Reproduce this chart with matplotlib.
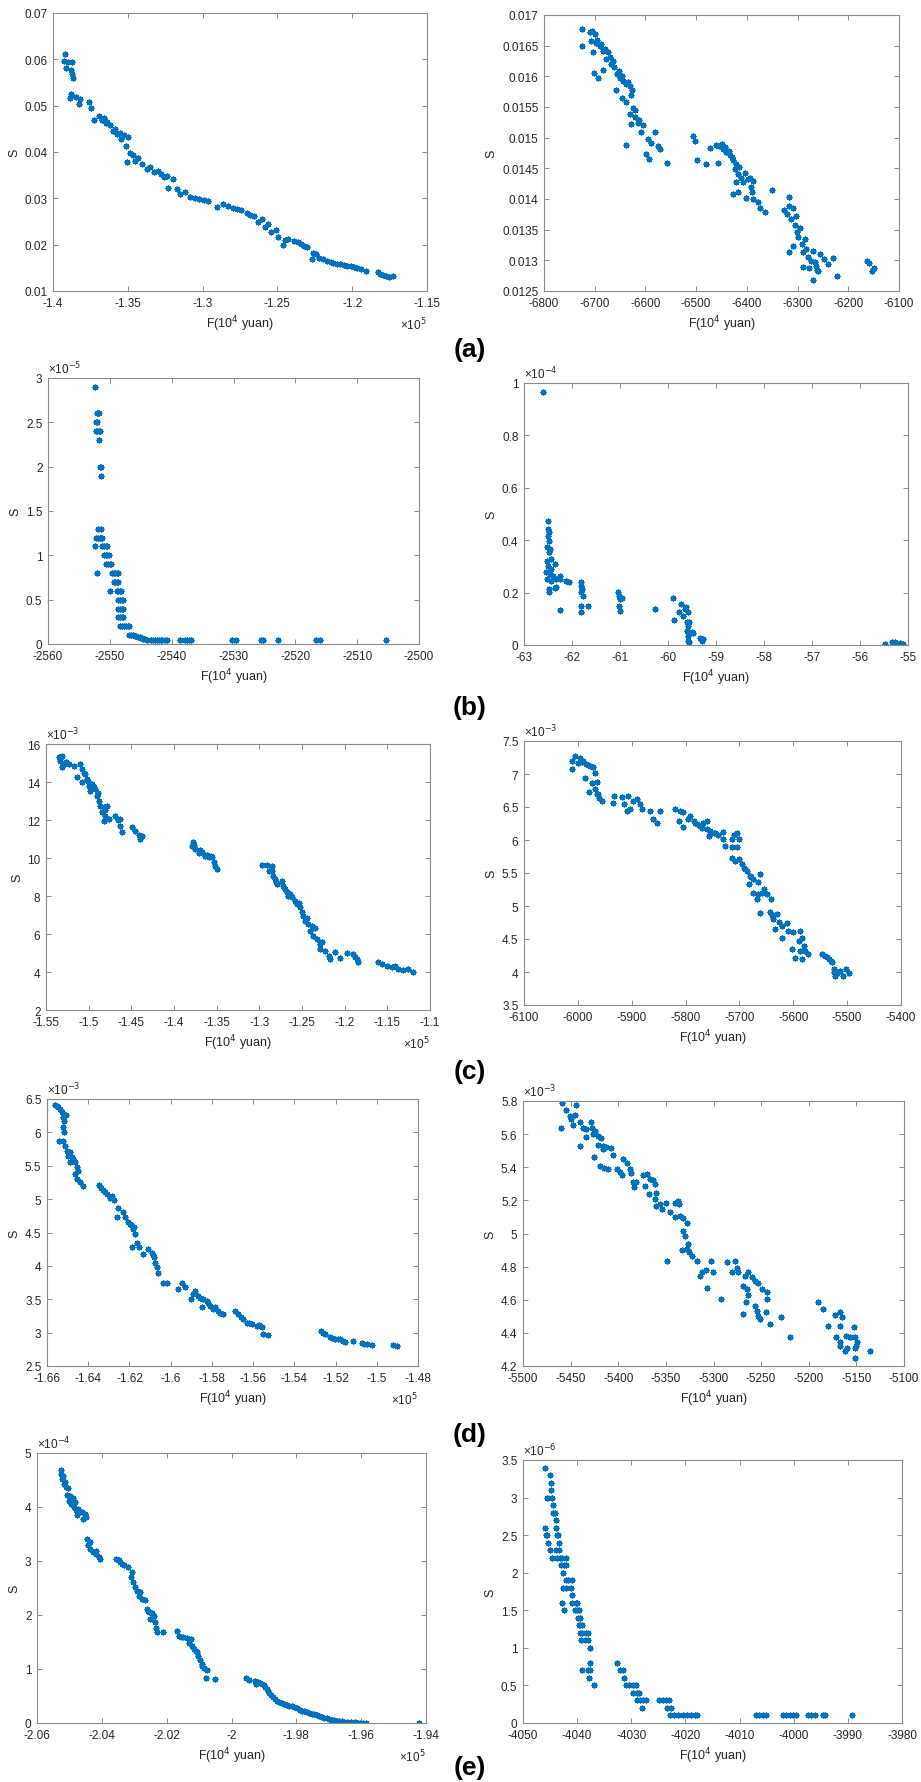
import matplotlib
matplotlib.use("Agg")
import matplotlib.pyplot as plt
from matplotlib.ticker import FuncFormatter
import numpy as np

plt.rcParams['font.family'] = ['Liberation Sans', 'DejaVu Sans']

# ---------------- data ----------------
# (a) left
a1_F = [-139174, -139263, -138996, -138705, -139107, -138817, -138661, -138705, -138772, -138884,
        -138482, -138214, -138259, -137590, -137433, -137277, -136920, -136607, -136384, -136161,
        -135982, -135714, -135491, -135424, -134978, -135090, -134822, -134643, -135045, -134532,
        -134018, -133750, -133259, -132813, -132411, -132009, -132300, -131742, -131184, -130849,
        -130224, -129621, -129063, -128661, -127947, -127456, -127010, -126563, -126273, -125827,
        -125447, -124643, -124934, -124264, -123885, -123439, -122992, -122590, -122702, -122189,
        -121698, -121251, -120805, -120358, -119867, -119421, -119064, -118305, -117948, -117568, -117278,
        -136750, -136450, -135850, -135250, -134300, -133500, -133000, -132600, -131500, -130500,
        -129900, -128300, -127700, -126800, -126000, -125600, -125100, -124500, -123650, -123200,
        -122400, -121950, -121450, -121000, -120550, -120100, -119650, -118150, -117750]
a1_S = [0.0611, 0.0597, 0.0595, 0.0595, 0.0582, 0.0577, 0.0559, 0.0568, 0.0526, 0.0516,
        0.0519, 0.0514, 0.0503, 0.0508, 0.0494, 0.0469, 0.0478, 0.0474, 0.0465, 0.0458,
        0.0446, 0.0438, 0.0442, 0.0428, 0.0433, 0.0413, 0.0397, 0.0393, 0.0379, 0.0381,
        0.0375, 0.0364, 0.0357, 0.0352, 0.0348, 0.0341, 0.0323, 0.0321, 0.0314, 0.0302,
        0.0298, 0.0294, 0.0282, 0.0287, 0.0280, 0.0275, 0.0268, 0.0262, 0.0249, 0.0239,
        0.0227, 0.0200, 0.0217, 0.0213, 0.0208, 0.0201, 0.0194, 0.0183, 0.0170, 0.0172,
        0.0165, 0.0161, 0.0158, 0.0154, 0.0152, 0.0148, 0.0143, 0.0140, 0.0135, 0.0131, 0.0132,
        0.0470, 0.0462, 0.0449, 0.0436, 0.0386, 0.0368, 0.0360, 0.0346, 0.0309, 0.0300,
        0.0296, 0.0284, 0.0278, 0.0265, 0.0256, 0.0244, 0.0231, 0.0210, 0.0205, 0.0197,
        0.0179, 0.0168, 0.0163, 0.0159, 0.0156, 0.0153, 0.0150, 0.0137, 0.0133]

# (a) right
a2_F = [-6725, -6725, -6710, -6705, -6700, -6707, -6697, -6690, -6703, -6684, -6674, -6677, -6667,
        -6684, -6661, -6657, -6651, -6644, -6638, -6631, -6626, -6701, -6694, -6659, -6647, -6638,
        -6628, -6625, -6630, -6621, -6628, -6615, -6605, -6608, -6595, -6590, -6582, -6598, -6593,
        -6575, -6572, -6639, -6557, -6506, -6503, -6498, -6481, -6472, -6460, -6454, -6447, -6457,
        -6441, -6434, -6427, -6421, -6424, -6418, -6411, -6404, -6394, -6388, -6421, -6408, -6389,
        -6427, -6418, -6401, -6388, -6378, -6375, -6365, -6350, -6327, -6316, -6316, -6320, -6312,
        -6306, -6302, -6299, -6316, -6309, -6292, -6283, -6289, -6270, -6280, -6273, -6263, -6256,
        -6289, -6277, -6260, -6270, -6247, -6240, -6230, -6222, -6164, -6159, -6154, -6150,
        -6695, -6688, -6680, -6669, -6664, -6653, -6646, -6634, -6620, -6612, -6450, -6444, -6436,
        -6430, -6415, -6398, -6392, -6310, -6304, -6296, -6286, -6266, -6262]
a2_S = [0.01677, 0.01650, 0.01672, 0.01674, 0.01669, 0.01658, 0.01655, 0.01650, 0.01639, 0.01642,
        0.01639, 0.01628, 0.01620, 0.01611, 0.01615, 0.01604, 0.01598, 0.01593, 0.01588, 0.01584,
        0.01578, 0.01605, 0.01597, 0.01578, 0.01564, 0.01558, 0.01570, 0.01549, 0.01539, 0.01533,
        0.01522, 0.01524, 0.01520, 0.01509, 0.01498, 0.01491, 0.01510, 0.01473, 0.01465, 0.01487,
        0.01482, 0.01488, 0.01459, 0.01503, 0.01495, 0.01464, 0.01457, 0.01483, 0.01488, 0.01487,
        0.01482, 0.01458, 0.01476, 0.01471, 0.01463, 0.01457, 0.01449, 0.01441, 0.01435, 0.01443,
        0.01435, 0.01430, 0.01427, 0.01427, 0.01411, 0.01408, 0.01411, 0.01401, 0.01400, 0.01395,
        0.01386, 0.01379, 0.01414, 0.01382, 0.01403, 0.01389, 0.01376, 0.01367, 0.01357, 0.01346,
        0.01338, 0.01313, 0.01324, 0.01327, 0.01318, 0.01313, 0.01316, 0.01305, 0.01299, 0.01291,
        0.01310, 0.01289, 0.01287, 0.01283, 0.01268, 0.01302, 0.01294, 0.01303, 0.01274, 0.01299,
        0.01296, 0.01283, 0.01287,
        0.01660, 0.01652, 0.01645, 0.01632, 0.01625, 0.01608, 0.01600, 0.01590, 0.01545, 0.01528,
        0.01490, 0.01485, 0.01478, 0.01468, 0.01452, 0.01432, 0.01420, 0.01385, 0.01372, 0.01352,
        0.01335, 0.01298, 0.01285]

b1_F = [-2552.46, -2552.1, -2551.9, -2551.7, -2552.2, -2552.0, -2552.2, -2552.0, -2551.8, -2551.6,
        -2551.7, -2551.6, -2551.5, -2551.38, -2551.9, -2551.4, -2552.2, -2551.9, -2551.6, -2551.4,
        -2551.2, -2552.46, -2551.2, -2551.0, -2550.7, -2550.5, -2551.0, -2550.7, -2550.4, -2550.2,
        -2550.6, -2550.3, -2550.0, -2549.8, -2552.1, -2549.7, -2549.4, -2549.2, -2548.9, -2548.7,
        -2549.4, -2549.1, -2548.8, -2548.6, -2549.9, -2548.9, -2548.6, -2548.4, -2548.2, -2548.6,
        -2548.3, -2548.1, -2547.9, -2548.6, -2548.3, -2548.1, -2547.8, -2548.6, -2548.3, -2548.0,
        -2547.8, -2548.3, -2548.0, -2547.7, -2547.4, -2547.1, -2546.9, -2546.9, -2546.6, -2546.3,
        -2546.0, -2545.7, -2545.5, -2545.2, -2545.0, -2544.8, -2544.6, -2544.3, -2544.0, -2543.3,
        -2543.0, -2542.7, -2542.4, -2542.1, -2541.8, -2541.5, -2541.1, -2540.8, -2538.6, -2537.8,
        -2537.5, -2537.2, -2536.9, -2530.2, -2529.6, -2525.5, -2525.3, -2522.8, -2516.6, -2516.0,
        -2505.4]
b1_S = [2.9, 2.6, 2.6, 2.6, 2.5, 2.5, 2.4, 2.4, 2.4, 2.4,
        2.3, 2.0, 2.0, 1.9, 1.3, 1.3, 1.2, 1.2, 1.2, 1.2,
        1.2, 1.1, 1.1, 1.1, 1.1, 1.1, 1.0, 1.0, 1.0, 1.0,
        0.9, 0.9, 0.9, 0.9, 0.8, 0.8, 0.8, 0.8, 0.8, 0.8,
        0.7, 0.7, 0.7, 0.7, 0.6, 0.6, 0.6, 0.6, 0.6, 0.5,
        0.5, 0.5, 0.5, 0.4, 0.4, 0.4, 0.4, 0.3, 0.3, 0.3,
        0.3, 0.2, 0.2, 0.2, 0.2, 0.2, 0.2, 0.1, 0.1, 0.1,
        0.09, 0.09, 0.08, 0.08, 0.07, 0.07, 0.06, 0.06, 0.05, 0.05,
        0.05, 0.05, 0.04, 0.04, 0.04, 0.04, 0.04, 0.04, 0.04, 0.04,
        0.04, 0.04, 0.04, 0.04, 0.04, 0.04, 0.04, 0.04, 0.04, 0.04,
        0.04]

# (b) right (S in units of 1e-4)
b2_F = [-62.604, -62.50, -62.50, -62.479, -62.50, -62.479, -62.52, -62.465, -62.479, -62.52,
        -62.43, -62.50, -62.36, -62.43, -62.534, -62.465, -62.395, -62.52, -62.43, -62.326,
        -62.256, -62.256, -62.117, -62.062, -62.479, -62.479, -62.36, -62.326, -62.256,
        -61.805, -61.805, -61.79, -61.805, -61.78, -61.805, -61.666, -61.82,
        -61.04, -61.02, -61.01, -60.95, -61.02, -60.99,
        -60.262,
        -59.886, -59.873, -59.77, -59.72, -59.685, -59.65, -59.616, -59.58, -59.60, -59.58,
        -59.61, -59.59, -59.58, -59.57, -59.51, -59.57, -59.48,
        -59.337, -59.30, -59.27,
        -55.48, -55.34, -55.27, -55.24, -55.17, -55.11]
b2_S = [0.967, 0.474, 0.443, 0.430, 0.417, 0.398, 0.373, 0.366, 0.354, 0.322,
        0.328, 0.303, 0.309, 0.290, 0.277, 0.271, 0.265, 0.252, 0.245, 0.252,
        0.265, 0.252, 0.245, 0.239, 0.214, 0.201, 0.216, 0.220, 0.135,
        0.239, 0.226, 0.214, 0.201, 0.188, 0.150, 0.150, 0.125,
        0.204, 0.188, 0.176, 0.181, 0.150, 0.131,
        0.137,
        0.178, 0.097, 0.125, 0.156, 0.112, 0.137, 0.144, 0.125, 0.087, 0.074,
        0.055, 0.036, 0.017, 0.010, 0.048, 0.087, 0.046,
        0.025, 0.017, 0.023,
        0.004, 0.013, 0.010, 0.004, 0.008, 0.004]

# (c) left (S in units of 1e-3)
c1_F = [-153517, -153322, -153127, -152932, -153127, -152346, -151761, -150980, -150785, -151370,
        -150785, -150395, -150200, -150004, -149614, -149809, -149224, -149029, -148834, -148638,
        -148248, -147858, -148443, -148053, -148248, -147663, -146882, -146374, -146296, -146101,
        -144930, -144540, -144150, -143955, -143760, -137788, -137905, -137514, -137124, -136734,
        -136344, -135954, -135563, -135368, -135173, -134978, -129709, -129124, -128538, -128538,
        -128343, -128148, -127952, -127367, -127172, -126977, -126782, -126587, -126196, -125806,
        -125611, -125221, -125026, -124830, -124635, -124245, -123855, -124050, -123660, -123269,
        -122879, -122879, -122294, -121786, -121708, -121122, -120537, -119756, -118975, -118585,
        -118390, -116048, -115658, -115073, -114488, -114097, -113707, -113122, -112536, -111951,
        -153400, -152600, -150600, -150100, -149400, -148900, -148100, -146600, -137600, -136900,
        -136100, -135700, -128900, -128000, -126400, -125400, -124450, -123450, -122600, -118800]
c1_S = [15.30, 15.12, 15.39, 14.96, 14.77, 14.96, 14.86, 14.95, 14.68, 14.25,
        13.98, 14.42, 14.16, 13.81, 13.90, 13.54, 13.63, 13.28, 13.02, 12.75,
        12.67, 12.75, 12.40, 12.23, 11.97, 12.05, 12.19, 12.05, 11.70, 11.35,
        11.61, 11.44, 11.21, 11.00, 11.14, 10.82, 10.65, 10.47, 10.26, 10.30,
        10.12, 10.03, 10.03, 9.77, 9.60, 9.42, 9.63, 9.63, 9.60, 9.33,
        9.07, 8.89, 8.63, 8.81, 8.54, 8.37, 8.19, 8.02, 7.93, 7.75,
        7.58, 7.40, 7.18, 6.97, 6.70, 6.53, 6.44, 6.18, 5.91, 5.74,
        5.47, 5.21, 5.12, 4.86, 4.68, 5.07, 4.72, 5.00, 4.95, 4.68,
        4.51, 4.51, 4.42, 4.33, 4.25, 4.33, 4.16, 4.12, 4.16, 3.98,
        15.20, 15.05, 14.50, 14.05, 13.75, 13.40, 12.55, 12.00, 10.70, 10.40,
        10.18, 10.08, 9.30, 8.75, 8.10, 7.65, 6.85, 6.30, 5.60, 4.80]

# (c) right (S in units of 1e-3)
c2_F = [-6010, -6010, -6005, -5996, -5999, -5990, -5984, -5977, -5971, -5968, -5987, -5974, -5964,
        -5980, -5968, -5965, -5960, -5956, -5933, -5918, -5906, -5934, -5915, -5909, -5903, -5897,
        -5891, -5884, -5881, -5866, -5861, -5853, -5847, -5819, -5810, -5804, -5813, -5805, -5791,
        -5785, -5779, -5773, -5767, -5761, -5761, -5754, -5757, -5748, -5739, -5730, -5726, -5730,
        -5710, -5705, -5700, -5714, -5714, -5705, -5714, -5708, -5700, -5696, -5692, -5686, -5680,
        -5674, -5683, -5661, -5665, -5674, -5665, -5658, -5668, -5649, -5642, -5661, -5643, -5630,
        -5627, -5637, -5634, -5621, -5612, -5621, -5609, -5600, -5587, -5590, -5603, -5597, -5584,
        -5581, -5578, -5587, -5584, -5572, -5547, -5541, -5534, -5528, -5525, -5522, -5519, -5513,
        -5503, -5497, -5507,
        -5993, -5981, -5962, -5795, -5782, -5770, -5745, -5690, -5678, -5655, -5640, -5538, -5530, -5524]
c2_S = [7.20, 7.08, 7.27, 7.25, 7.17, 7.20, 7.15, 7.12, 7.10, 7.02, 6.94, 6.87, 6.88,
        6.73, 6.77, 6.69, 6.64, 6.59, 6.67, 6.65, 6.67, 6.56, 6.54, 6.44, 6.47, 6.59,
        6.62, 6.54, 6.47, 6.44, 6.32, 6.26, 6.44, 6.47, 6.44, 6.42, 6.29, 6.19, 6.36,
        6.29, 6.24, 6.21, 6.26, 6.29, 6.16, 6.14, 6.06, 6.11, 6.07, 6.12, 5.91, 6.02,
        6.07, 6.11, 6.01, 6.01, 5.89, 5.89, 5.73, 5.68, 5.71, 5.63, 5.58, 5.53, 5.46,
        5.41, 5.33, 5.48, 5.36, 5.20, 5.18, 5.20, 5.10, 5.18, 5.10, 4.90, 4.91, 4.88,
        4.76, 4.80, 4.65, 4.70, 4.75, 4.52, 4.62, 4.60, 4.62, 4.47, 4.35, 4.21, 4.52,
        4.40, 4.32, 4.32, 4.20, 4.27, 4.27, 4.25, 4.20, 4.15, 4.04, 3.94, 3.99, 4.02,
        4.04, 3.99, 3.94,
        7.18, 7.13, 6.70, 6.32, 6.26, 6.18, 6.10, 5.56, 5.44, 5.26, 4.86, 4.22, 4.17, 4.00]

# (d) left (S in units of 1e-3)
d1_F = [-165612, -165450, -165369, -165289, -165208, -165175, -165240, -165175, -165402, -165208,
        -165127, -165046, -164965, -164803, -164884, -164642, -164561, -164480, -164642, -164528,
        -164399, -164237, -163461, -163267, -163106, -162863, -162750, -162540, -162620, -162330,
        -162216, -162055, -161941, -161844, -161731, -161893, -161618, -161520, -161327, -161084,
        -160923, -160810, -160761, -160680, -160599, -160389, -160195, -159629, -159467, -159306,
        -159031, -158820, -158659, -158416, -158255, -158093, -158497, -157850, -157689, -157478,
        -156880, -156718, -156476, -156314, -156071, -155829, -155586, -155505, -155263, -152724,
        -152514, -152271, -152029, -151786, -151544, -151140, -150736, -150493, -150251, -149232,
        -149038,
        -165530, -165100, -164900, -164720, -163380, -163190, -162960, -161990, -161790, -160860,
        -158900, -158560, -158180, -157950, -157600, -156600, -156200, -155700, -152620, -152150,
        -151900, -151650, -150620]
d1_S = [6.415, 6.375, 6.35, 6.30, 6.225, 6.175, 6.075, 6.0, 5.876, 5.876,
        5.80, 5.726, 5.65, 5.626, 5.55, 5.55, 5.476, 5.426, 5.376, 5.30,
        5.26, 5.20, 5.21, 5.14, 5.077, 5.04, 4.99, 4.86, 4.73, 4.80,
        4.73, 4.66, 4.61, 4.55, 4.48, 4.29, 4.35, 4.28, 4.18, 4.26,
        4.20, 4.13, 4.05, 3.98, 3.90, 3.75, 3.74, 3.65, 3.74, 3.68,
        3.51, 3.63, 3.55, 3.51, 3.48, 3.40, 3.38, 3.38, 3.33, 3.28,
        3.33, 3.28, 3.21, 3.15, 3.13, 3.10, 3.08, 2.98, 2.96, 3.03,
        2.98, 2.93, 2.91, 2.90, 2.86, 2.88, 2.84, 2.83, 2.81, 2.81,
        2.80,
        6.40, 6.26, 5.70, 5.60, 5.17, 5.10, 5.02, 4.63, 4.58, 4.17,
        3.58, 3.52, 3.44, 3.36, 3.30, 3.24, 3.14, 3.12, 3.00, 2.92,
        2.90, 2.88, 2.83]

# (d) right (S in units of 1e-3)
d2_F = [-5458.6, -5459.7, -5455.1, -5450.9, -5449.2, -5445.7, -5443.9, -5447.4, -5439.7, -5439.7,
        -5436.9, -5433.4, -5428.1, -5427.1, -5424.6, -5433.4, -5426.4, -5421.1, -5417.6, -5421.1,
        -5415.9, -5425.3, -5415.9, -5413.1, -5407.1, -5405.3, -5419.4, -5415.2, -5410.6, -5401.8,
        -5398.3, -5395.9, -5394.8, -5391.3, -5387.8, -5386.1, -5384.3, -5381.5, -5383.6, -5373.8,
        -5369.6, -5372.0, -5366.8, -5363.3, -5361.5, -5367.5, -5360.5, -5361.9, -5360.5, -5356.3,
        -5354.5, -5349.9, -5345.8, -5340.5, -5337.0, -5335.9, -5340.5, -5335.2, -5332.4, -5328.2,
        -5331.7, -5329.9, -5326.5, -5328.2, -5333.5, -5325.4, -5323.0, -5317.7, -5349.3, -5312.5,
        -5314.2, -5307.9, -5303.0, -5300.2, -5307.2, -5292.5, -5285.5, -5277.5, -5275.7, -5274.0,
        -5280.9, -5266.9, -5263.4, -5259.9, -5256.4, -5253.5, -5249.3, -5268.6, -5265.1, -5263.4,
        -5265.8, -5269.3, -5256.4, -5254.6, -5252.9, -5251.1, -5244.8, -5244.1, -5244.1, -5240.6,
        -5229.4, -5220.2, -5189.8, -5185.2, -5180.3, -5172.2, -5166.9, -5165.2, -5166.9, -5171.2,
        -5167.6, -5166.9, -5161.7, -5160.0, -5160.6, -5156.4, -5152.9, -5151.2, -5149.4, -5151.2,
        -5150.1, -5151.2, -5135.4]
d2_S = [5.790, 5.635, 5.744, 5.710, 5.690, 5.714, 5.774, 5.653, 5.673, 5.529,
        5.639, 5.629, 5.673, 5.639, 5.619, 5.585, 5.599, 5.589, 5.579, 5.533,
        5.529, 5.464, 5.513, 5.525, 5.519, 5.472, 5.408, 5.398, 5.388, 5.388,
        5.372, 5.352, 5.448, 5.424, 5.388, 5.364, 5.308, 5.308, 5.281, 5.352,
        5.358, 5.287, 5.332, 5.324, 5.297, 5.237, 5.247, 5.207, 5.167, 5.177,
        5.147, 5.183, 5.127, 5.187, 5.197, 5.177, 5.097, 5.107, 5.091, 5.066,
        5.016, 4.986, 4.936, 4.905, 4.902, 4.889, 4.865, 4.835, 4.831, 4.765,
        4.741, 4.779, 4.835, 4.765, 4.668, 4.604, 4.829, 4.835, 4.789, 4.765,
        4.765, 4.745, 4.769, 4.735, 4.715, 4.700, 4.664, 4.684, 4.664, 4.628,
        4.588, 4.514, 4.564, 4.534, 4.504, 4.483, 4.524, 4.604, 4.644, 4.453,
        4.497, 4.373, 4.588, 4.544, 4.443, 4.508, 4.524, 4.493, 4.443, 4.373,
        4.343, 4.323, 4.292, 4.307, 4.383, 4.373, 4.433, 4.373, 4.347, 4.307,
        4.323, 4.246, 4.292]

# (e) left (S in units of 1e-4)
e1_F = [-205248, -205248, -205217, -205176, -205114, -205042, -205073, -204991, -205011, -204939,
        -204867, -204785, -204765, -204599, -204527, -204496, -204579, -204455, -204424, -204352,
        -204270, -204167, -204084, -204064, -204187, -203549, -203425, -203322, -203188, -203085,
        -203034, -202982, -202910, -202828, -202776, -202673, -202622, -202539, -202467, -202519,
        -202395, -202364, -202333, -202313, -202127, -201695, -201612, -201489, -201386, -201262,
        -201231, -201159, -201077, -201025, -200974, -200922, -200850, -200768, -200788, -200510,
        -199552, -199274, -199243, -199120, -198996, -198914, -198832, -198728, -198605, -198450,
        -198296, -198141, -197987, -197832, -197678, -197523, -197369, -197214, -197060, -196905,
        -196751, -196596, -196442, -196184, -196030, -195844, -194227,
        -205200, -205140, -204900, -204820, -204720, -204380, -203480, -203380, -203060, -202860,
        -202590, -201550, -201320, -201110, -200900, -199450, -199180, -199050, -198960, -198870,
        -198780, -198660, -198520, -198370, -198220, -198060, -197900, -197750, -197600, -197450,
        -197290, -197140, -196980, -196830, -196680, -196520, -196300, -196100, -195950]
e1_S = [4.69, 4.62, 4.52, 4.43, 4.37, 4.35, 4.23, 4.21, 4.12, 4.06,
        4.00, 3.94, 3.86, 3.91, 3.87, 3.81, 3.78, 3.40, 3.30, 3.23,
        3.16, 3.13, 3.07, 3.03, 3.18, 3.04, 2.98, 2.93, 2.89, 2.70,
        2.61, 2.52, 2.45, 2.42, 2.30, 2.27, 2.11, 2.06, 2.04, 1.93,
        1.99, 1.87, 1.76, 1.69, 1.68, 1.71, 1.62, 1.59, 1.57, 1.55,
        1.43, 1.37, 1.31, 1.25, 1.17, 1.09, 1.01, 0.99, 0.83, 0.82,
        0.83, 0.78, 0.72, 0.74, 0.70, 0.63, 0.56, 0.48, 0.41, 0.37,
        0.33, 0.31, 0.27, 0.23, 0.20, 0.17, 0.14, 0.11, 0.087, 0.062,
        0.043, 0.031, 0.012, 0.012, 0.006, 0.003, 0.0,
        4.58, 4.46, 4.17, 4.09, 3.97, 3.35, 3.01, 2.95, 2.80, 2.36,
        2.08, 1.60, 1.48, 1.34, 1.05, 0.80, 0.76, 0.72, 0.67, 0.60,
        0.52, 0.44, 0.39, 0.35, 0.32, 0.29, 0.25, 0.22, 0.19, 0.16,
        0.13, 0.10, 0.075, 0.052, 0.037, 0.022, 0.010, 0.006, 0.004]

# (e) right (S in units of 1e-6)
e2_F = [-4045.87, -4045.07, -4044.76, -4044.76, -4045.56, -4044.57, -4044.45, -4044.45, -4044.14,
        -4043.96, -4045.99, -4043.83, -4045.8, -4045.56, -4043.65, -4043.46, -4045.37, -4043.34,
        -4045.07, -4043.83, -4043.34, -4044.57, -4043.71, -4043.22, -4042.72, -4042.11, -4042.91,
        -4042.48, -4041.98, -4042.6, -4042.11, -4041.67, -4040.87, -4042.6, -4041.98, -4041.06,
        -4040.87, -4042.78, -4040.87, -4040.26, -4040.0, -4042.48, -4040.44, -4040.0, -4039.64,
        -4039.82, -4039.52, -4039.64, -4039.39, -4039.02, -4039.52, -4039.02, -4038.41, -4037.97,
        -4039.21, -4038.59, -4037.97, -4037.67, -4037.54, -4039.02, -4037.97, -4037.54, -4037.79,
        -4036.93,
        -4032.73, -4032.12, -4031.5, -4031.38, -4031.0, -4030.39, -4029.77, -4029.16, -4029.77,
        -4028.91, -4028.54, -4029.03, -4028.42, -4027.8, -4027.37, -4028.1,
        -4024.84, -4024.22, -4023.6, -4022.99, -4023.36, -4022.74,
        -4022.87, -4022.13, -4021.32, -4020.52, -4019.78, -4019.04, -4018.24, -4017.81,
        -4006.95, -4006.34, -4005.6, -4005.1,
        -4002.02, -4001.4, -4000.66, -4000.05, -3999.55,
        -3997.27, -3996.84, -3996.04, -3994.62, -3994.19,
        -3989.25]
e2_S = [3.4, 3.3, 3.2, 3.1, 3.0, 3.0, 2.9, 2.8, 2.8,
        2.7, 2.6, 2.6, 2.5, 2.5, 2.5, 2.5, 2.4, 2.4,
        2.3, 2.3, 2.3, 2.2, 2.2, 2.2, 2.2, 2.2, 2.1,
        2.1, 2.1, 2.0, 1.9, 1.9, 1.9, 1.8, 1.8, 1.8,
        1.7, 1.6, 1.6, 1.6, 1.6, 1.5, 1.5, 1.5, 1.5,
        1.4, 1.4, 1.3, 1.3, 1.3, 1.2, 1.2, 1.2, 1.2,
        1.1, 1.1, 1.1, 1.0, 0.8, 0.7, 0.7, 0.7, 0.6,
        0.5,
        0.8, 0.7, 0.7, 0.6, 0.5, 0.5, 0.5, 0.5, 0.4,
        0.4, 0.4, 0.3, 0.3, 0.3, 0.3, 0.2,
        0.3, 0.3, 0.3, 0.3, 0.2, 0.2,
        0.1, 0.1, 0.1, 0.1, 0.1, 0.1, 0.1, 0.1,
        0.1, 0.1, 0.1, 0.1,
        0.1, 0.1, 0.1, 0.1, 0.1,
        0.1, 0.1, 0.1, 0.1, 0.1,
        0.1]

# unit scale of the S lists above
S_units = {'b1': 1e-5, 'b2': 1e-4, 'c1': 1e-3, 'c2': 1e-3, 'd1': 1e-3, 'd2': 1e-3,
           'e1': 1e-4, 'e2': 1e-6}

panel_labels = ['(a)', '(b)', '(c)', '(d)', '(e)']
xlabel_text = 'F(10$^{4}$ yuan)'
ylabel_text = 'S'

# axis settings: xlim, xstep, x exponent, ylim, ystep, y exponent
axis_cfg = {
    'a1': ((-1.4e5, -1.15e5), 0.05e5, 5, (0.01, 0.07), 0.01, 0),
    'a2': ((-6800, -6100), 100, 0, (0.0125, 0.017), 0.0005, 0),
    'b1': ((-2560, -2500), 10, 0, (0, 3e-5), 0.5e-5, -5),
    'b2': ((-63, -55), 1, 0, (0, 1e-4), 0.2e-4, -4),
    'c1': ((-1.55e5, -1.1e5), 0.05e5, 5, (2e-3, 16e-3), 2e-3, -3),
    'c2': ((-6100, -5400), 100, 0, (3.5e-3, 7.5e-3), 0.5e-3, -3),
    'd1': ((-1.66e5, -1.48e5), 0.02e5, 5, (2.5e-3, 6.5e-3), 0.5e-3, -3),
    'd2': ((-5500, -5100), 50, 0, (4.2e-3, 5.8e-3), 0.2e-3, -3),
    'e1': ((-2.06e5, -1.94e5), 0.02e5, 5, (0, 5e-4), 1e-4, -4),
    'e2': ((-4050, -3980), 10, 0, (0, 3.5e-6), 0.5e-6, -6),
}

series = {
    'a1': (a1_F, a1_S), 'a2': (a2_F, a2_S), 'b1': (b1_F, b1_S), 'b2': (b2_F, b2_S),
    'c1': (c1_F, c1_S), 'c2': (c2_F, c2_S), 'd1': (d1_F, d1_S), 'd2': (d2_F, d2_S),
    'e1': (e1_F, e1_S), 'e2': (e2_F, e2_S),
}

# ---------------- layout (pixel boxes: left, top, right, bottom) ----------------
W, H = 921, 1783
boxes = {
    'a1': (53, 14, 427, 292), 'a2': (544, 16, 899, 292),
    'b1': (48, 379, 419, 645), 'b2': (524, 384, 908, 646),
    'c1': (46, 745, 430, 1011), 'c2': (524, 742, 901, 1006),
    'd1': (47, 1100, 418, 1367), 'd2': (523, 1102, 904, 1367),
    'e1': (37, 1454, 426, 1724), 'e2': (523, 1461, 902, 1724),
}
label_pos = [(470, 350), (470, 708), (470, 1072), (470, 1435), (470, 1768)]

blue = '#0072BD'
spine_col = '#8a8a8a'
text_col = '#262626'

fig = plt.figure(figsize=(W / 100, H / 100), dpi=100)


def make_fmt(exp):
    def f(v, pos):
        val = v / (10 ** exp)
        s = '%g' % round(val, 6)
        if s == '-0':
            s = '0'
        return s
    return FuncFormatter(f)


for key, (l, t, r, b) in boxes.items():
    ax = fig.add_axes([l / W, 1 - b / H, (r - l) / W, (b - t) / H])
    F, S = series[key]
    S = np.asarray(S, dtype=float) * S_units.get(key, 1.0)
    ax.plot(F, S, linestyle='none', marker=(8, 2, 0), markersize=4.2,
            markeredgewidth=1.0, color=blue)
    xlim, xstep, xexp, ylim, ystep, yexp = axis_cfg[key]
    ax.set_xlim(*xlim)
    ax.set_ylim(*ylim)
    nx = int(round((xlim[1] - xlim[0]) / xstep))
    ny = int(round((ylim[1] - ylim[0]) / ystep))
    ax.set_xticks([xlim[0] + i * xstep for i in range(nx + 1)])
    ax.set_yticks([ylim[0] + i * ystep for i in range(ny + 1)])
    ax.xaxis.set_major_formatter(make_fmt(xexp))
    ax.yaxis.set_major_formatter(make_fmt(yexp))
    ax.tick_params(direction='in', top=True, right=True, length=3.5, width=0.7,
                   colors=spine_col, labelcolor=text_col, labelsize=8.5)
    ax.tick_params(axis='x', pad=4.5)
    ax.tick_params(axis='y', pad=4)
    for sp in ax.spines.values():
        sp.set_color(spine_col)
        sp.set_linewidth(0.8)
    ax.set_xlabel(xlabel_text, fontsize=9, color=text_col, labelpad=3)
    ax.set_ylabel(ylabel_text, fontsize=9, color=text_col, labelpad=3)
    if xexp != 0:
        ax.text(1.0, -33 / (b - t), '×10$^{%d}$' % xexp, transform=ax.transAxes,
                ha='right', va='center', fontsize=8.5, color=text_col)
    if yexp != 0:
        ax.text(0.0, 1.0 + 2 / (b - t), '×10$^{%d}$' % yexp, transform=ax.transAxes,
                ha='left', va='bottom', fontsize=8.5, color=text_col)

for txt, (px, py) in zip(panel_labels, label_pos):
    fig.text(px / W, 1 - py / H, txt, ha='center', va='center', fontsize=19,
             fontweight='bold', color='black')

fig.savefig('out.png', dpi=100)
